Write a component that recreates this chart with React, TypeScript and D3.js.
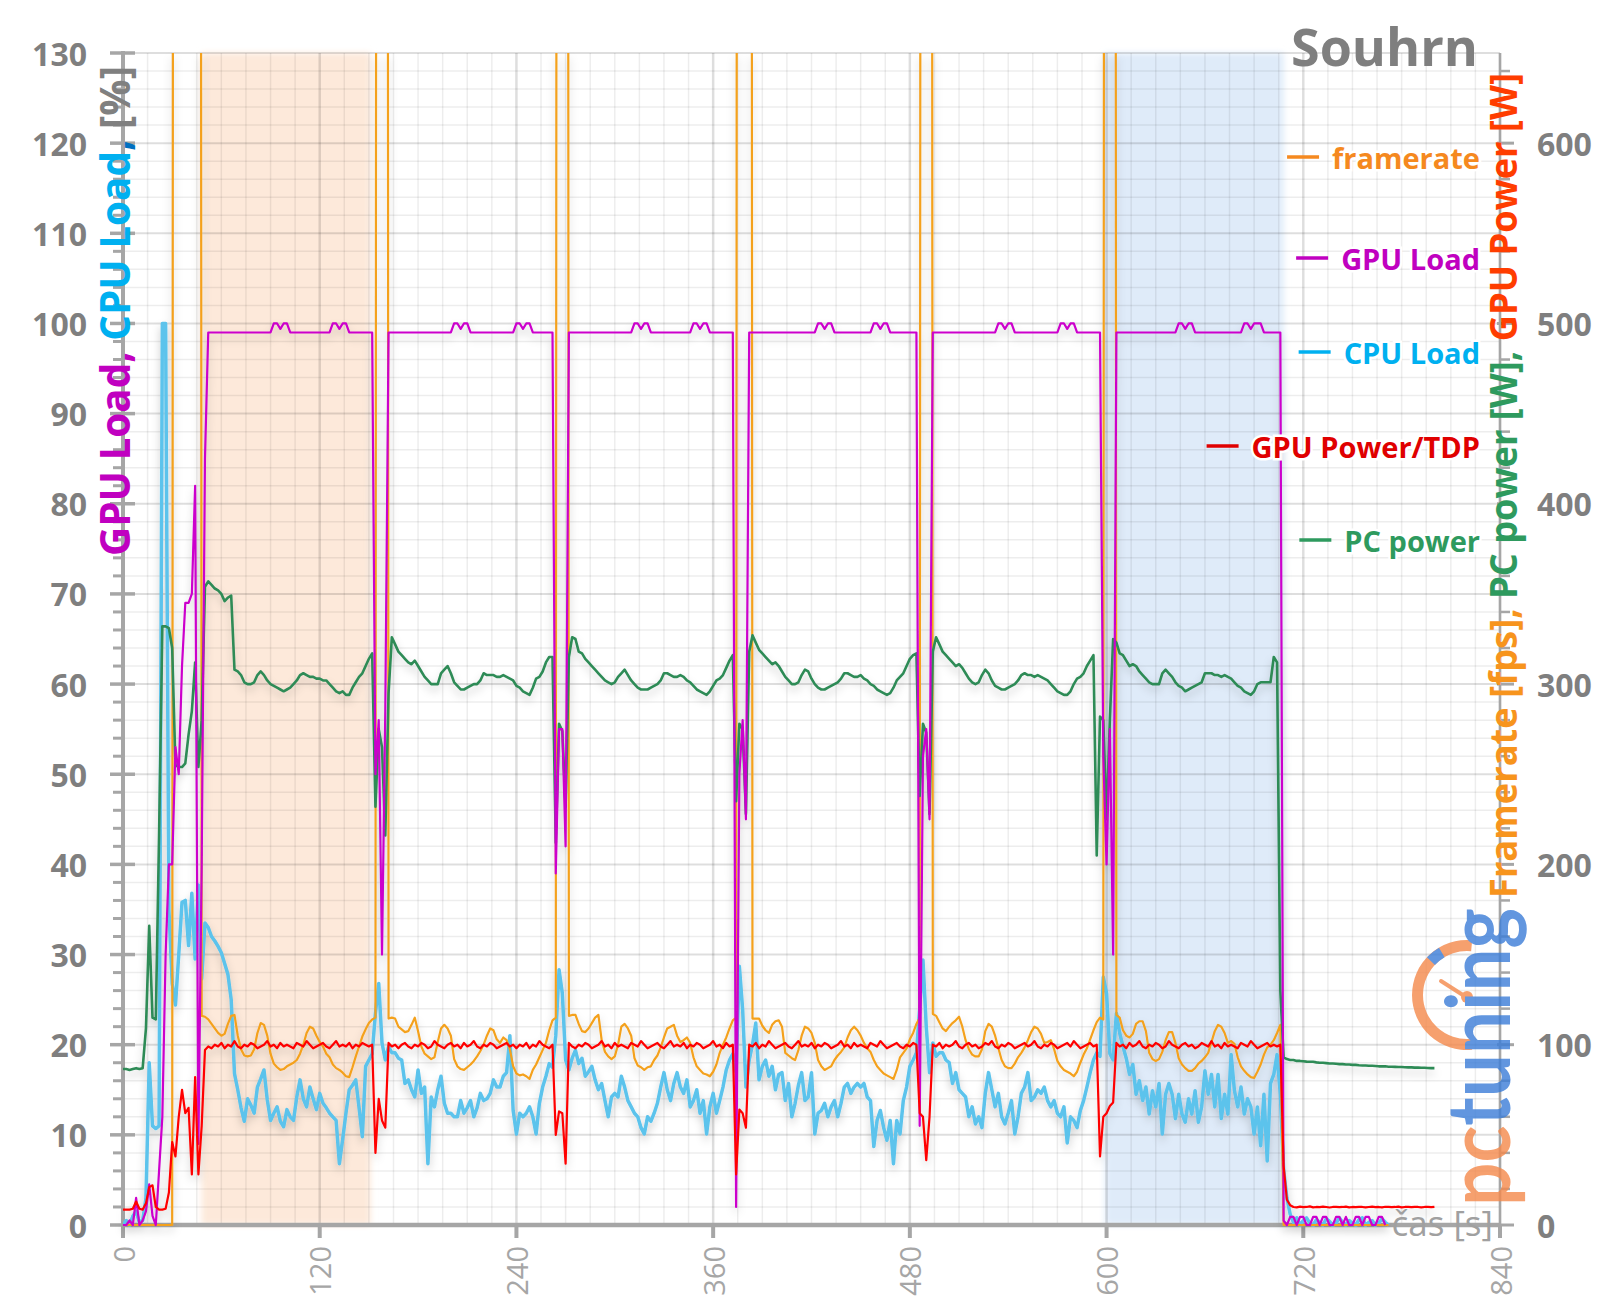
import React, { useLayoutEffect, useRef, useState } from "react";
import * as d3 from "d3";

const WIDTH = 1600;
const HEIGHT = 1313;
const PLOT = { left: 123, right: 1500, top: 53, bottom: 1225 };
const STEP = 2; // seconds between samples

const xTickValues = [0, 120, 240, 360, 480, 600, 720, 840];
const leftTickValues = [0, 10, 20, 30, 40, 50, 60, 70, 80, 90, 100, 110, 120, 130];
const rightTickValues = [0, 100, 200, 300, 400, 500, 600];

const bands = [
  { from: 48, to: 151, color: "#fde9da" },
  { from: 599, to: 708, color: "#dfebf9" },
];

type Seg = [number, number[]];

// GPU Load [%]
const gpuLoadSegments: Seg[] = [
  [0, [0, 0, 0.5, 0, 3, 0, 0.5, 1.5, 4.5, 1, 0, 6, 12, 30, 40, 40, 53, 50, 62, 69, 69, 70, 82, 9, 40, 85]],
  [52, [
    99, 99, 99, 99, 99, 99, 99, 99, 99, 99,
    99, 99, 99, 99, 99, 99, 99, 99, 99, 99,
    100, 100, 99.4, 100, 100, 99, 99, 99, 99, 99,
    99, 99, 99, 99, 99, 99, 99, 99, 100, 100,
    99.4, 100, 100, 99, 99, 99, 99, 99, 99, 99,
    99, 50, 56, 30, 57]],
  [162, [
    99, 99, 99, 99, 99, 99, 99, 99, 99, 99,
    99, 99, 99, 99, 99, 99, 99, 99, 99, 99,
    100, 100, 99.4, 100, 100, 99, 99, 99, 99, 99,
    99, 99, 99, 99, 99, 99, 99, 99, 99, 100,
    100, 99.4, 100, 100, 99, 99, 99, 99, 99, 99,
    99, 39, 55, 55, 42]],
  [272, [
    99, 99, 99, 99, 99, 99, 99, 99, 99, 99,
    99, 99, 99, 99, 99, 99, 99, 99, 99, 99,
    100, 100, 99.4, 100, 100, 99, 99, 99, 99, 99,
    99, 99, 99, 99, 99, 99, 99, 99, 100, 100,
    99.4, 100, 100, 99, 99, 99, 99, 99, 99, 99,
    99, 2, 50, 56, 45]],
  [382, [
    99, 99, 99, 99, 99, 99, 99, 99, 99, 99,
    99, 99, 99, 99, 99, 99, 99, 99, 99, 99,
    99, 100, 100, 99.4, 100, 100, 99, 99, 99, 99,
    99, 99, 99, 99, 99, 99, 99, 99, 100, 100,
    99.4, 100, 100, 99, 99, 99, 99, 99, 99, 99,
    99, 99, 11, 52, 55, 45]],
  [494, [
    99, 99, 99, 99, 99, 99, 99, 99, 99, 99,
    99, 99, 99, 99, 99, 99, 99, 99, 99, 99,
    100, 100, 99.4, 100, 100, 99, 99, 99, 99, 99,
    99, 99, 99, 99, 99, 99, 99, 99, 99, 100,
    100, 99.4, 100, 100, 99, 99, 99, 99, 99, 99,
    99, 99, 52, 40, 55, 30]],
  [606, [
    99, 99, 99, 99, 99, 99, 99, 99, 99, 99,
    99, 99, 99, 99, 99, 99, 99, 99, 99, 100,
    100, 99.4, 100, 100, 99, 99, 99, 99, 99, 99,
    99, 99, 99, 99, 99, 99, 99, 99, 99, 100,
    100, 99.4, 100, 100, 100, 99, 99, 99, 99, 99,
    99]],
  [708, [0.5, 0, 0.9, 0.9, 0, 0.9, 0.9, 0, 0, 0.9, 0.9, 0, 0.9, 0.9, 0, 0, 0.9, 0.9, 0, 0.9, 0, 0, 0.9, 0.9, 0, 0.9, 0.9, 0, 0, 0.9, 0.9, 0]],
];

// CPU Load [%]
const cpuLoadSegments: Seg[] = [
  [0, [0, 0.5, 0, 1, 1.5, 0.3, 0.5, 3, 18, 11, 10.7, 11, 100, 100, 35, 26.8, 24.4, 30, 35.8, 36, 31, 36.8, 29.5, 37.7, 27.3]],
  [50, [
    33.5, 33, 32, 31.5, 30.9, 30.2, 29, 27.8, 25, 16.8,
    15, 13, 11.5, 14, 13.3, 12.4, 15.3, 16.2, 17.2, 13.9,
    11.6, 12.4, 13.1, 11.5, 10.9, 12.8, 12, 11.6, 14.2, 16.1,
    14, 13.1, 15.3, 14, 12.8, 14.6, 13.5, 13, 12.4, 12,
    11.6, 6.8, 9.5, 12.4, 15, 15.5, 16.1, 13, 9.8, 17.6,
    18.3, 19, 23.5, 26.8, 20.2, 18.3]],
  [162, [
    19.8, 19.1, 19.1, 18.5, 18.3, 15.7, 16.1, 15, 14.2, 17.2,
    14.6, 15.3, 6.8, 14.2, 13.1, 15, 16.5, 13.5, 12.4, 12.4,
    12, 12, 13.8, 12.4, 13, 13.8, 12, 13, 14.6, 13.8,
    14, 14.6, 16.1, 15.3, 15.3, 16.5, 16.9, 21, 12.7, 10.1,
    12.4, 12, 12.4, 13.1, 12, 10.1, 13.5, 15.3, 16.5, 17.9,
    17.5, 21, 28.3, 25.7, 18.3]],
  [272, [
    17.2, 18.5, 19.4, 17.9, 18.5, 16.5, 17, 17.6, 16.1, 15,
    15.7, 13.8, 12, 14.2, 14.6, 14.2, 16.5, 15.3, 13.8, 13.1,
    12.4, 12, 10.8, 10.1, 12, 11.5, 12.4, 13.5, 15.3, 16.9,
    15, 13.8, 15.7, 16.9, 15.3, 14.6, 16.1, 13.1, 13.8, 15,
    12.4, 13.8, 10.1, 13.1, 14.6, 12.4, 13.8, 15.3, 17.2, 18.3,
    19, 17, 28.7, 23.9, 15.3]],
  [382, [
    18.3, 20, 22.4, 16.1, 17.6, 18.3, 16.5, 17.6, 15, 16.7,
    16.9, 13.8, 15.7, 12, 13.5, 15.5, 16.9, 13.8, 14.2, 16.9,
    10.1, 12.4, 12.7, 13.5, 12, 13.1, 13.8, 12, 13.5, 15.3,
    15.7, 14.6, 15.3, 15.7, 15.3, 15.7, 14.2, 13.8, 8.7, 11.6,
    12.7, 10.8, 9.4, 11.6, 6.8, 11.6, 10.1, 13.8, 15.3, 17.6,
    18.3, 19.1, 24, 29.4, 22, 16.9]],
  [494, [
    20.2, 18.7, 19.1, 19.1, 18.3, 18, 15.7, 16.9, 15, 14.6,
    14.2, 12, 13.1, 11.2, 12, 10.8, 14.6, 16.9, 15, 13.1,
    14.6, 12, 11.2, 12.4, 13.8, 10.1, 12, 14.6, 15.3, 16.9,
    13.8, 14.2, 15, 14.6, 15.3, 13.8, 13.1, 13.8, 12.4, 12,
    13.1, 9.1, 12, 11.6, 10.8, 12.7, 13.8, 15.3, 16.9, 18.3,
    19.1, 18.7, 27.5, 25.7, 19, 18.3]],
  [606, [
    23.5, 21.3, 19.8, 18.5, 16.7, 17.8, 14.5, 16, 13.8, 15.3,
    12.3, 14.9, 13.1, 15.7, 10.1, 14.5, 15.7, 14.5, 11.8, 14.5,
    12.3, 11.4, 14, 12.3, 14.9, 11.4, 13.1, 17.1, 14.5, 16.7,
    13.1, 16.7, 11.8, 14.5, 12.3, 18.9, 14.9, 13.1, 15.3, 12.3,
    14, 13.1, 10.1, 13.1, 8.8, 14.5, 7.1, 15.7, 16.7, 18.9,
    14.5, 6.2, 3, 1.2]],
  [714, [0.3, 0.8, 0, 0.5, 0.8, 0.2, 0, 0.6, 0.3, 0, 0.7, 0.4, 0, 0.2, 0.8, 0.3, 0, 0.5, 0.2, 0, 0.6, 0.8, 0, 0.3, 0.5, 0, 0.2, 0.7, 0.3, 0]],
];

// Framerate [fps]
const framerateSegments: Seg[] = [
  [0, [0, 0, 0, 0, 0, 0, 0, 0, 0, 0, 0, 0, 0, 0, 0, 0, 3000, 3000, 3000, 3000, 3000, 3000, 3000, 3000, 116]],
  [50, [
    115.5, 114, 111.5, 109, 106.5, 105, 106, 111.5, 116, 116.5,
    105, 97.5, 94, 93.5, 94, 97.5, 106.5, 112, 111, 105,
    95, 89.5, 87.5, 86, 86.5, 88, 89, 90, 91.5, 95,
    100, 106.5, 110, 109, 105, 101.5, 99, 95, 93, 89,
    87, 86, 84.5, 82.5, 82, 87.5, 93.5, 99, 104.5, 108.5,
    112, 114, 115, 3000, 3000, 3000]],
  [162, [
    114.5, 115, 114.5, 110, 108.5, 107, 107.5, 111, 115, 107.5,
    99, 95, 93.5, 92, 93, 101.5, 109, 111, 109, 105,
    92, 88, 86.5, 86, 87.5, 89, 91, 93.5, 96.5, 100,
    105, 109, 108, 103, 101, 104, 102.5, 97.5, 88, 84,
    83, 83.5, 82.5, 81, 86, 89, 93, 97, 101, 108,
    113.5, 115, 3000, 3000, 3000]],
  [272, [
    116, 116.5, 116.5, 111.5, 107.5, 107, 109, 112, 115, 116.5,
    102.5, 96, 93.5, 92, 93.5, 100, 110, 111.5, 109, 105,
    92.5, 88.5, 87.5, 86, 87.5, 88, 91.5, 94, 98.5, 104,
    109, 110, 111, 105, 101.5, 102.5, 104, 101, 93, 88,
    86, 84, 83.5, 82.5, 85, 89, 95.5, 100, 104, 109,
    113.5, 115, 3000, 3000, 3000, 3000]],
  [384, [
    114.5, 114.5, 114.5, 110.5, 108, 106.5, 111, 113, 113.5, 110,
    95.5, 94, 92.5, 91.5, 97, 105, 110, 109, 106.5, 101,
    91.5, 88, 86, 87, 88, 91.5, 94, 96, 98.5, 104,
    108, 110, 108, 105, 101, 98, 96, 91.5, 88, 86,
    84, 83, 82, 81, 86, 93, 95.5, 98, 103, 106.5,
    111.5, 115, 3000, 3000, 3000]],
  [494, [
    117, 116, 112.5, 109, 107.5, 110, 112, 113.5, 115.5, 110,
    102.5, 97.5, 94.5, 93.5, 93.5, 97.5, 107.5, 111.5, 110, 105,
    98, 91.5, 88, 87, 87, 89.5, 93, 95.5, 98.5, 102.5,
    107, 110, 109, 106, 101, 101.5, 102.5, 97.5, 91, 88,
    86, 85, 84, 82.5, 85, 90, 94.5, 98, 103, 108,
    112.5, 115, 114, 3000, 3000, 3000]],
  [606, [
    116.5, 115, 108, 105, 104, 106, 111.5, 113, 113, 107.5,
    95.5, 92, 91, 92, 96, 102.5, 107, 107, 101, 92.5,
    89, 87, 85.5, 85.5, 87, 89.5, 91, 93, 95.5, 101.5,
    107.5, 111, 110, 106.5, 101, 102, 100.5, 93, 88, 85.5,
    83.5, 82, 81.5, 85, 89, 94.5, 98.5, 100, 102.5, 106.5,
    111]],
  [708, [0, 0, 0, 0, 0, 0, 0, 0, 0, 0, 0, 0, 0, 0, 0, 0, 0, 0, 0, 0, 0, 0, 0, 0, 0, 0, 0, 0, 0, 0, 0, 0, 0]],
];

// PC power [W]
const pcPowerSegments: Seg[] = [
  [0, [86.5, 86.5, 86, 86.5, 87, 86.5, 87, 109, 166, 115, 114, 216, 332, 332, 331, 320, 255, 254, 254, 256, 272, 285, 312, 254, 280]],
  [50, [
    354, 357, 355, 353, 352, 350, 346, 348, 349, 308,
    307, 305, 301, 300, 300, 301, 305, 307, 305, 302,
    300, 299, 298, 297, 296, 297, 298, 300, 302, 305,
    306, 305, 304, 304, 303, 303, 302, 302, 300, 298,
    296, 295, 296, 294, 294, 298, 301, 304, 306, 310,
    314, 317, 232, 275, 265, 216, 295]],
  [164, [
    326, 322, 318, 316, 314, 312, 311, 313, 310, 307,
    304, 302, 300, 300, 300, 306, 308, 310, 306, 301,
    299, 297, 297, 298, 299, 300, 300, 302, 306, 305,
    305, 305, 304, 304, 305, 304, 303, 302, 299, 298,
    296, 295, 294, 298, 303, 304, 307, 312, 315, 315,
    212, 278, 274, 232, 315]],
  [274, [
    326, 325, 318, 317, 314, 312, 310, 308, 306, 304,
    302, 301, 300, 301, 304, 306, 308, 305, 302, 300,
    298, 297, 297, 297, 298, 299, 300, 302, 306, 306,
    305, 304, 304, 305, 304, 302, 301, 299, 297, 296,
    295, 294, 296, 299, 302, 303, 305, 309, 313, 316,
    235, 278, 275, 228, 318]],
  [384, [
    327, 323, 319, 317, 315, 313, 311, 312, 310, 307,
    304, 302, 300, 300, 301, 305, 308, 307, 303, 300,
    298, 297, 297, 298, 299, 300, 301, 303, 306, 306,
    305, 304, 304, 305, 303, 302, 300, 299, 297, 296,
    295, 294, 295, 298, 302, 304, 306, 310, 314, 316,
    317, 238, 278, 273, 228, 318]],
  [496, [
    326, 322, 318, 316, 314, 312, 310, 311, 309, 306,
    303, 301, 300, 301, 305, 308, 306, 302, 299, 298,
    297, 297, 298, 299, 300, 302, 305, 306, 305, 305,
    304, 305, 304, 303, 302, 300, 298, 296, 295, 294,
    294, 296, 300, 303, 304, 306, 310, 313, 316,
    205, 282, 280, 225, 280, 325]],
  [606, [
    323, 317, 316, 313, 310, 311, 310, 307, 305, 303,
    301, 300, 300, 300, 306, 308, 306, 304, 301, 299,
    298, 296, 297, 298, 299, 300, 301, 306, 306, 306,
    305, 305, 304, 305, 304, 303, 301, 299, 298, 296,
    295, 294, 296, 300, 301, 301, 301, 301, 315, 312,
    130, 93]],
  [710, [
    92, 91.5, 91.5, 91, 91, 90.8, 90.6, 90.5, 90.5, 90.2,
    90, 90, 89.8, 89.6, 89.6, 89.4, 89.2, 89.2, 89, 89,
    88.8, 88.8, 88.6, 88.5, 88.5, 88.3, 88.3, 88.2, 88, 88,
    88, 87.8, 87.8, 87.7, 87.6, 87.6, 87.5, 87.4, 87.4, 87.3,
    87.3, 87.2, 87.2, 87.1, 87, 87]],
];

// GPU Power [W]
const gpuPowerSegments: Seg[] = [
  [0, [8.5, 8.5, 8.5, 9, 13, 9, 8.5, 12, 21, 22, 10, 8.5, 8.5, 9, 18, 46, 38, 60, 75, 62, 65, 28, 82, 28, 55]],
  [50, [
    97, 99, 98, 100, 99, 101, 98, 100, 99, 102,
    99, 98, 100, 99, 101, 100, 98, 99, 100, 102,
    99, 100, 98, 101, 99, 100, 99, 98, 101, 100,
    99, 102, 100, 98, 99, 100, 101, 99, 98, 100,
    102, 99, 100, 99, 101, 98, 100, 99, 101, 100,
    99, 100, 40, 70, 58, 54]],
  [162, [
    101, 99, 100, 98, 100, 101, 99, 98, 100, 99,
    101, 100, 98, 99, 102, 100, 99, 98, 100, 101,
    99, 100, 98, 101, 99, 100, 102, 99, 98, 100,
    99, 101, 100, 98, 99, 100, 101, 99, 100, 98,
    100, 99, 101, 98, 100, 99, 102, 100, 99, 98,
    100, 50, 63, 62, 34]],
  [272, [
    101, 99, 98, 100, 99, 101, 100, 98, 99, 100,
    102, 99, 100, 98, 101, 99, 100, 99, 98, 101,
    100, 99, 102, 100, 98, 99, 100, 101, 99, 98,
    100, 102, 99, 100, 99, 101, 98, 100, 99, 101,
    100, 98, 99, 100, 102, 99, 100, 98, 101, 99,
    100, 28, 64, 62, 54]],
  [382, [
    100, 99, 101, 98, 100, 99, 102, 100, 98, 99,
    100, 101, 99, 98, 100, 102, 99, 100, 99, 101,
    98, 100, 99, 101, 100, 98, 99, 100, 102, 99,
    100, 98, 101, 99, 100, 99, 98, 101, 100, 99,
    102, 100, 98, 99, 100, 101, 99, 98, 100, 99,
    101, 100, 62, 60, 36, 60]],
  [494, [
    100, 99, 101, 98, 100, 99, 100, 102, 99, 98,
    100, 101, 99, 100, 98, 99, 101, 100, 102, 99,
    98, 100, 99, 101, 100, 98, 99, 100, 101, 99,
    100, 102, 99, 98, 100, 99, 101, 100, 98, 99,
    100, 101, 99, 102, 100, 98, 99, 100, 101, 99,
    100, 38, 60, 62, 66, 68]],
  [606, [
    101, 99, 100, 98, 101, 99, 100, 102, 99, 98,
    100, 99, 101, 100, 98, 99, 102, 100, 99, 98,
    100, 101, 99, 100, 98, 99, 101, 100, 99, 102,
    99, 100, 98, 101, 99, 100, 99, 98, 101, 100,
    99, 102, 100, 98, 99, 100, 101, 99, 100, 99,
    100, 33, 14, 11]],
  [714, [
    10, 9.8, 10.2, 9.9, 10, 10.3, 9.8, 10, 9.9, 10.2,
    10, 9.7, 10, 10.1, 9.9, 10, 10.2, 9.8, 10, 9.9,
    10.1, 10, 9.8, 10, 10.2, 9.9, 10, 9.8, 10.1, 10,
    9.9, 10, 10.2, 9.8, 10, 10, 9.9, 10.1, 10, 9.8,
    10, 10, 9.9, 10.1]],
];

const legendItems = [
  { label: "framerate", color: "#f5891f", y: 157 },
  { label: "GPU Load", color: "#c000c0", y: 258 },
  { label: "CPU Load", color: "#00b0f0", y: 352 },
  { label: "GPU Power/TDP", color: "#e00000", y: 446 },
  { label: "PC power", color: "#2e9a5e", y: 540 },
];

function build(segs: Seg[]): [number, number][] {
  const m = new Map<number, number>();
  segs.forEach(([t0, vals]) => vals.forEach((v, i) => m.set(t0 + i * STEP, v)));
  return Array.from(m.entries()).sort((a, b) => a[0] - b[0]);
}

const FONT = "'Open Sans', 'DejaVu Sans', sans-serif";
const LEGEND_RIGHT = 1480;

export default function App() {
  const x = d3.scaleLinear().domain([0, 840]).range([PLOT.left, PLOT.right]);
  const yL = d3.scaleLinear().domain([0, 130]).range([PLOT.bottom, PLOT.top]);
  const yR = d3.scaleLinear().domain([0, 650]).range([PLOT.bottom, PLOT.top]);

  const lineL = d3.line<[number, number]>().x((d) => x(d[0])).y((d) => yL(d[1]));
  const lineR = d3.line<[number, number]>().x((d) => x(d[0])).y((d) => yR(d[1]));

  const series = [
    { key: "cpu", d: lineL(build(cpuLoadSegments)), color: "#5bc3ec", width: 3.5 },
    { key: "fps", d: lineR(build(framerateSegments)), color: "#f4a11d", width: 2.2 },
    { key: "pc", d: lineR(build(pcPowerSegments)), color: "#2e8b57", width: 2.6 },
    { key: "gpu", d: lineL(build(gpuLoadSegments)), color: "#cc00cc", width: 2.2 },
    { key: "gpupow", d: lineR(build(gpuPowerSegments)), color: "#ff0000", width: 2.2 },
  ];

  const legendRefs = useRef<(SVGTextElement | null)[]>([]);
  const [legendStarts, setLegendStarts] = useState<number[]>([1337, 1343, 1347, 1247, 1345]);
  useLayoutEffect(() => {
    const s = legendRefs.current.map((el, i) =>
      el ? LEGEND_RIGHT - el.getComputedTextLength() : legendStarts[i]
    );
    setLegendStarts(s);
  }, []);

  const hMinor = d3.range(0, 131, 2).filter((v) => v % 10 !== 0);
  const hMajor = d3.range(10, 131, 10);
  const vMinor = d3.range(15, 841, 15).filter((v) => v % 120 !== 0);
  const vMajor = d3.range(120, 841, 120);
  const leftMinorTicks = d3.range(0, 131, 2).filter((v) => v % 10 !== 0);
  const rightMinorTicks = d3.range(0, 651, 20).filter((v) => v % 100 !== 0);

  const gaugeArc = d3.arc()({ innerRadius: 44, outerRadius: 55, startAngle: Math.PI * 0.97, endAngle: Math.PI * 2.03 }) || "";
  const gaugeMark = d3.arc()({ innerRadius: 44, outerRadius: 55, startAngle: Math.PI * 1.74, endAngle: Math.PI * 1.83 }) || "";

  return (
    <svg
      width={WIDTH}
      height={HEIGHT}
      viewBox={`0 0 ${WIDTH} ${HEIGHT}`}
      style={{ position: "absolute", left: 0, top: 0, background: "#fff" }}
      fontFamily={FONT}
    >
      <defs>
        <clipPath id="plotClip">
          <rect x={PLOT.left} y={PLOT.top} width={PLOT.right - PLOT.left} height={PLOT.bottom - PLOT.top + 3} />
        </clipPath>
        <filter id="shadow" filterUnits="userSpaceOnUse" x={0} y={0} width={WIDTH} height={HEIGHT}>
          <feDropShadow dx={0} dy={5} stdDeviation={4} floodColor="#000" floodOpacity={0.2} />
        </filter>
        <filter id="soft" filterUnits="userSpaceOnUse" x={0} y={0} width={WIDTH} height={HEIGHT}>
          <feGaussianBlur stdDeviation={3} />
        </filter>
      </defs>

      <rect x={0} y={0} width={WIDTH} height={HEIGHT} fill="#fff" />

      {/* bands */}
      <g filter="url(#soft)">
        {bands.map((b, i) => (
          <rect key={i} x={x(b.from)} y={PLOT.top} width={x(b.to) - x(b.from)} height={PLOT.bottom - PLOT.top} fill={b.color} />
        ))}
      </g>

      {/* grid */}
      <g>
        {hMinor.map((v) => (
          <line key={"hm" + v} x1={PLOT.left} x2={PLOT.right} y1={yL(v)} y2={yL(v)} stroke="rgba(0,0,0,0.07)" strokeWidth={1.5} />
        ))}
        {vMinor.map((v) => (
          <line key={"vm" + v} x1={x(v)} x2={x(v)} y1={PLOT.top} y2={PLOT.bottom} stroke="rgba(0,0,0,0.07)" strokeWidth={1.5} />
        ))}
        {hMajor.map((v) => (
          <line key={"hM" + v} x1={PLOT.left} x2={PLOT.right} y1={yL(v)} y2={yL(v)} stroke="rgba(0,0,0,0.13)" strokeWidth={2} />
        ))}
        {vMajor.map((v) => (
          <line key={"vM" + v} x1={x(v)} x2={x(v)} y1={PLOT.top} y2={PLOT.bottom} stroke="rgba(0,0,0,0.13)" strokeWidth={2.5} />
        ))}
      </g>

      {/* axes */}
      <g stroke="#a6a6a6">
        <line x1={PLOT.left} x2={PLOT.left} y1={PLOT.top - 2} y2={PLOT.bottom + 2} strokeWidth={4} />
        {leftTickValues.map((v) => (
          <line key={"lt" + v} x1={110} x2={135} y1={yL(v)} y2={yL(v)} strokeWidth={3.5} />
        ))}
        {leftMinorTicks.map((v) => (
          <line key={"lmt" + v} x1={113} x2={PLOT.left} y1={yL(v)} y2={yL(v)} strokeWidth={3} />
        ))}
        <line x1={PLOT.left} x2={PLOT.right} y1={PLOT.bottom} y2={PLOT.bottom} strokeWidth={4.5} />
        {xTickValues.map((v) => (
          <line key={"xt" + v} x1={x(v)} x2={x(v)} y1={PLOT.bottom} y2={PLOT.bottom + 13} strokeWidth={4} />
        ))}
        <line x1={PLOT.right} x2={PLOT.right} y1={PLOT.top} y2={PLOT.bottom} strokeWidth={2.5} />
        {rightTickValues.map((v) => (
          <line key={"rt" + v} x1={PLOT.right - 3} x2={PLOT.right + 14} y1={yR(v)} y2={yR(v)} strokeWidth={3} />
        ))}
        {rightMinorTicks.map((v) => (
          <line key={"rmt" + v} x1={PLOT.right} x2={PLOT.right + 10} y1={yR(v)} y2={yR(v)} strokeWidth={2.5} />
        ))}
      </g>

      {/* logo */}
      <g opacity={0.8}>
        <g transform="translate(1467,995)">
          <path d={gaugeArc} fill="#f4894b" />
          <path d={gaugeMark} fill="#3b7dd8" />
        </g>
        <line x1={1441} y1={981} x2={1466} y2={997} stroke="#f4894b" strokeWidth={4} strokeLinecap="round" />
        <circle cx={1467} cy={997} r={6} fill="#f4894b" />
        <text
          transform="translate(1510,1206) rotate(-90)"
          fontFamily="Lato, 'Open Sans', sans-serif"
          fontSize={88}
          fontWeight={700}
          textLength={298}
          lengthAdjust="spacingAndGlyphs"
        >
          <tspan fill="#f4894b">pc</tspan>
          <tspan fill="#3b7dd8">tuning</tspan>
        </text>
      </g>

      {/* data lines */}
      <g filter="url(#shadow)">
        <g clipPath="url(#plotClip)">
          {series.map((s) => (
            <path key={s.key} d={s.d || ""} fill="none" stroke={s.color} strokeWidth={s.width} strokeLinejoin="round" />
          ))}
        </g>
      </g>

      {/* tick labels */}
      <g fill="#7f7f7f" fontSize={32} fontWeight={700}>
        {leftTickValues.map((v) => (
          <text key={"ll" + v} x={87} y={yL(v)} textAnchor="end" dominantBaseline="central">
            {v}
          </text>
        ))}
        {rightTickValues.map((v) => (
          <text key={"rl" + v} x={1537} y={yR(v)} textAnchor="start" dominantBaseline="central">
            {v}
          </text>
        ))}
      </g>
      <g fill="#a6a6a6" fontSize={29}>
        {xTickValues.map((v) => (
          <text key={"xl" + v} transform={`translate(${x(v)},1246) rotate(-90)`} textAnchor="end" dominantBaseline="central">
            {v}
          </text>
        ))}
      </g>
      <text x={1493} y={1236} textAnchor="end" fontSize={35} fill="#a0a0a0">
        čas [s]
      </text>

      {/* axis titles */}
      <text transform="translate(130,556) rotate(-90)" fontSize={41} fontWeight={700} textLength={490} lengthAdjust="spacingAndGlyphs">
        <tspan fill="#c000c0">{"GPU Load,"}</tspan>
        <tspan fill="#00b0f0">{" CPU Load"}</tspan>
        <tspan fill="#0070c0">{","}</tspan>
        <tspan fill="#808080">{" [%]"}</tspan>
      </text>
      <text transform="translate(1517,898) rotate(-90)" fontSize={37} fontWeight={700} textLength={825} lengthAdjust="spacingAndGlyphs">
        <tspan fill="#f7941d">{"Framerate [fps],"}</tspan>
        <tspan fill="#2e9a5e">{" PC power [W],"}</tspan>
        <tspan fill="#ff3d00">{" GPU Power [W]"}</tspan>
      </text>

      {/* title */}
      <text x={1478} y={66} textAnchor="end" fontSize={52} fontWeight={700} fill="#7f7f7f">
        Souhrn
      </text>

      {/* legend */}
      <g fontSize={29} fontWeight={700}>
        {legendItems.map((it, i) => (
          <g key={it.label}>
            <line x1={legendStarts[i] - 45} x2={legendStarts[i] - 13} y1={it.y} y2={it.y} stroke={it.color} strokeWidth={3.5} />
            <text
              ref={(el) => {
                legendRefs.current[i] = el;
              }}
              x={LEGEND_RIGHT}
              y={it.y}
              textAnchor="end"
              dominantBaseline="central"
              fill={it.color}
              stroke="#fff"
              strokeWidth={5}
              paintOrder="stroke"
            >
              {it.label}
            </text>
          </g>
        ))}
      </g>
    </svg>
  );
}
